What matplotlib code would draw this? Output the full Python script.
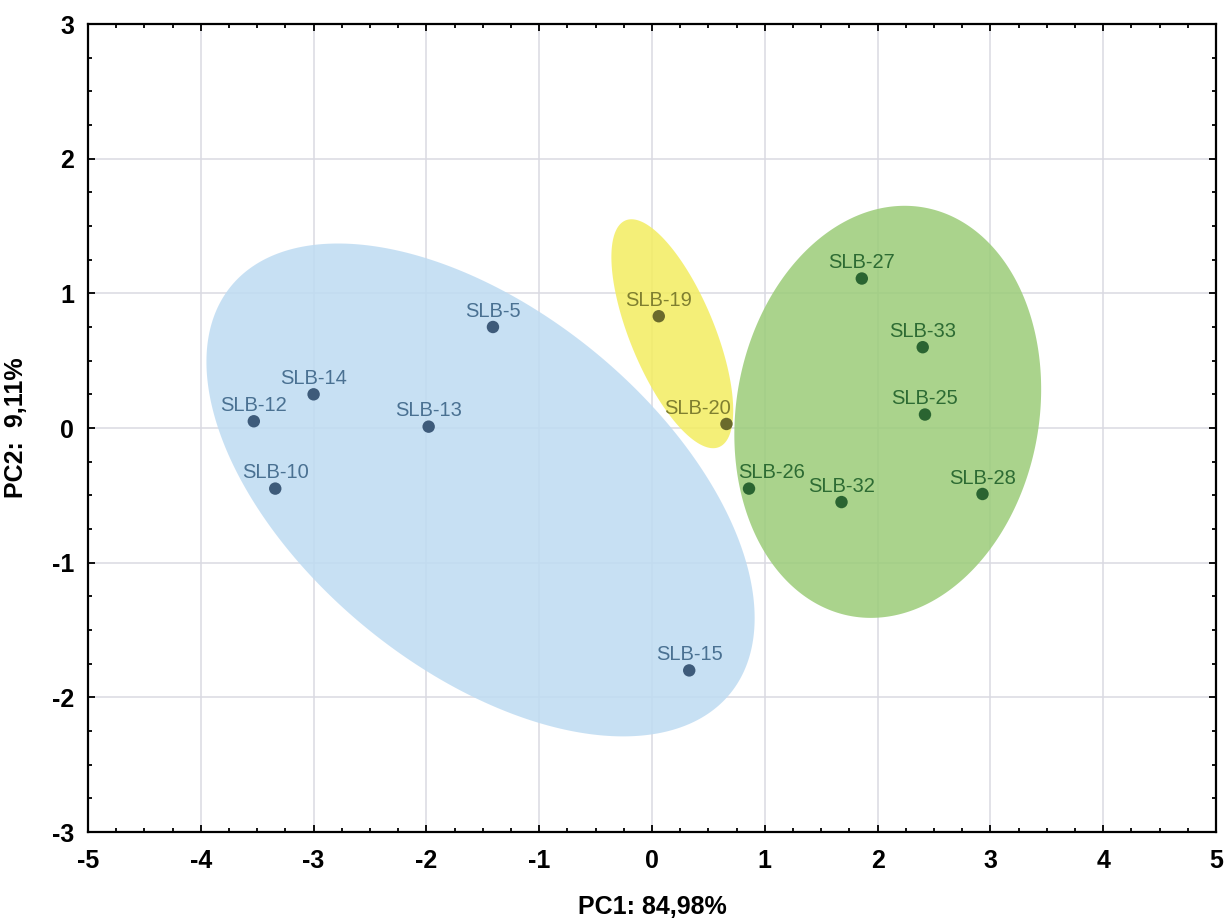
import numpy as np
import matplotlib
matplotlib.use("Agg")
import matplotlib.pyplot as plt
from matplotlib.ticker import MultipleLocator

plt.rcParams["font.family"] = ["Liberation Sans", "DejaVu Sans"]
plt.rcParams["font.weight"] = "bold"
plt.rcParams["axes.unicode_minus"] = False

# Sample scores on the first two principal components
samples = ["SLB-5", "SLB-10", "SLB-12", "SLB-13", "SLB-14", "SLB-15",
           "SLB-19", "SLB-20",
           "SLB-25", "SLB-26", "SLB-27", "SLB-28", "SLB-32", "SLB-33"]
pc1 = [-1.41, -3.34, -3.53, -1.98, -3.00, 0.33,
       0.06, 0.66,
       2.42, 0.86, 1.86, 2.93, 1.68, 2.40]
pc2 = [0.75, -0.45, 0.05, 0.01, 0.25, -1.80,
       0.83, 0.03,
       0.10, -0.45, 1.11, -0.49, -0.55, 0.60]
group = [0, 0, 0, 0, 0, 0,
         1, 1,
         2, 2, 2, 2, 2, 2]

# Group ellipses: centre, half-extent along PC1 / PC2, correlation
ell_cx = [-1.52, 0.18, 2.09]
ell_cy = [-0.46, 0.70, 0.12]
ell_wx = [2.43, 0.54, 1.36]
ell_hy = [1.83, 0.85, 1.53]
ell_rho = [-0.52, -0.67, 0.11]

fill_colors = ["#bedbf2", "#f3ed60", "#9bcc78"]
point_colors = ["#3e5b7a", "#6a6a2c", "#2a6431"]
label_colors = ["#4a7192", "#7f7f30", "#2d6b33"]

# Horizontal nudges (in points) for labels that sit beside neighbours
label_dx = {"SLB-20": -21, "SLB-26": 16}

fig = plt.figure(figsize=(12.26, 9.18), dpi=100)
ax = fig.add_axes([88 / 1226, 1 - 832 / 918, 1128 / 1226, 808 / 918])

ax.set_xlim(-5, 5)
ax.set_ylim(-3, 3)
ax.xaxis.set_major_locator(MultipleLocator(1))
ax.yaxis.set_major_locator(MultipleLocator(1))
ax.xaxis.set_minor_locator(MultipleLocator(0.25))
ax.yaxis.set_minor_locator(MultipleLocator(0.25))
ax.grid(True, which="major", color="#dadae2", linewidth=1.1, zorder=0)
ax.set_axisbelow(True)

t = np.linspace(0, 2 * np.pi, 400)
for k in range(3):
    ex = ell_cx[k] + ell_wx[k] * np.cos(t)
    ey = ell_cy[k] + ell_hy[k] * (ell_rho[k] * np.cos(t)
                                  + np.sqrt(1 - ell_rho[k] ** 2) * np.sin(t))
    ax.fill(ex, ey, color=fill_colors[k], alpha=0.85, linewidth=0, zorder=1 + k)

for name, x, y, g in zip(samples, pc1, pc2, group):
    ax.scatter([x], [y], s=80, color=point_colors[g], edgecolors="none", zorder=10)
    ax.annotate(name, (x, y), xytext=(label_dx.get(name, 0), 7.5),
                textcoords="offset points", ha="center", va="baseline",
                fontsize=14.5, fontweight="normal", color=label_colors[g],
                zorder=11)

for s in ax.spines.values():
    s.set_linewidth(1.6)
    s.set_color("black")
    s.set_zorder(20)

ax.tick_params(which="both", direction="in", top=True, right=True,
               width=1.3, colors="black", labelsize=18)
ax.tick_params(which="major", length=5)
ax.tick_params(which="minor", length=3)
ax.tick_params(axis="x", which="major", pad=12)
ax.tick_params(axis="y", which="major", pad=10)

ax.set_xlabel("PC1: 84,98%", fontsize=18, fontweight="bold")
ax.set_ylabel("PC2:  9,11%", fontsize=18, fontweight="bold")
ax.xaxis.set_label_coords(0.5, -0.078)
ax.yaxis.set_label_coords(-0.053, 0.5)

fig.savefig("out.png", dpi=100)
